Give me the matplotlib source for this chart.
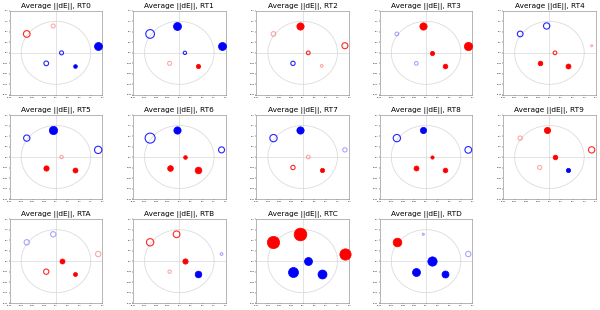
import matplotlib
matplotlib.use("Agg")
import matplotlib.pyplot as plt
import numpy as np

# sensor positions (fixed for all panels)
pos_x = [-0.63, -0.06, 0.91, 0.12, -0.21, 0.41]
pos_y = [0.45, 0.64, 0.17, 0.00, -0.25, -0.31]

names = ["RT0", "RT1", "RT2", "RT3", "RT4", "RT5", "RT6",
         "RT7", "RT8", "RT9", "RTA", "RTB", "RTC", "RTD"]

# signed average ||dE|| per sensor (positive = red, negative = blue)
vals_RT0 = [0.67, 0.40, -0.80, -0.40, -0.47, -0.37]
vals_RT1 = [-0.87, -0.80, -0.80, -0.33, 0.40, 0.43]
vals_RT2 = [0.47, 0.73, 0.60, 0.37, -0.43, 0.27]
vals_RT3 = [-0.37, 0.73, 0.83, 0.43, -0.37, 0.47]
vals_RT4 = [-0.57, -0.63, 0.20, 0.37, 0.47, 0.50]
vals_RT5 = [-0.63, -0.83, -0.73, 0.33, 0.53, 0.50]
vals_RT6 = [-1.00, -0.73, -0.60, 0.37, 0.57, 0.67]
vals_RT7 = [-0.73, -0.73, -0.43, 0.37, 0.43, 0.43]
vals_RT8 = [-0.73, -0.63, -0.67, 0.33, 0.50, 0.47]
vals_RT9 = [0.43, 0.63, 0.63, 0.47, 0.40, -0.43]
vals_RTA = [-0.53, -0.53, 0.53, 0.50, 0.53, 0.40]
vals_RTB = [0.73, 0.67, -0.27, 0.53, 0.33, -0.67]
vals_RTC = [1.23, 1.27, 1.13, -0.80, -1.00, -0.90]
vals_RTD = [0.87, -0.20, -0.53, -0.93, -0.80, -0.70]

# significance level: 2 = filled, 1 = open, 0 = open faint
sig_RT0 = [1, 0, 2, 1, 1, 2]
sig_RT1 = [1, 2, 2, 1, 0, 2]
sig_RT2 = [0, 2, 1, 1, 1, 0]
sig_RT3 = [0, 2, 2, 2, 0, 2]
sig_RT4 = [1, 1, 0, 1, 2, 2]
sig_RT5 = [1, 2, 1, 0, 2, 2]
sig_RT6 = [1, 2, 1, 2, 2, 2]
sig_RT7 = [1, 2, 0, 0, 1, 2]
sig_RT8 = [1, 2, 1, 2, 2, 2]
sig_RT9 = [0, 2, 1, 2, 0, 2]
sig_RTA = [0, 0, 0, 2, 1, 2]
sig_RTB = [1, 1, 0, 2, 0, 2]
sig_RTC = [2, 2, 2, 2, 2, 2]
sig_RTD = [2, 0, 0, 2, 2, 2]

all_vals = [vals_RT0, vals_RT1, vals_RT2, vals_RT3, vals_RT4, vals_RT5, vals_RT6,
            vals_RT7, vals_RT8, vals_RT9, vals_RTA, vals_RTB, vals_RTC, vals_RTD]
all_sig = [sig_RT0, sig_RT1, sig_RT2, sig_RT3, sig_RT4, sig_RT5, sig_RT6,
           sig_RT7, sig_RT8, sig_RT9, sig_RTA, sig_RTB, sig_RTC, sig_RTD]

ticks = [-1.0, -0.75, -0.5, -0.25, 0.0, 0.25, 0.5, 0.75, 1.0]

fig, axes = plt.subplots(3, 5, figsize=(6.0, 3.1), dpi=100)
fig.subplots_adjust(left=0.016, right=0.993, top=0.965, bottom=0.022,
                    wspace=0.33, hspace=0.24)

theta = np.linspace(0, 2 * np.pi, 300)
for i, ax in enumerate(axes.flat):
    if i >= len(names):
        ax.axis("off")
        continue
    ax.plot(0.75 * np.cos(theta), 0.75 * np.sin(theta), color="#dcdcdc", lw=0.6, zorder=1)
    ax.axhline(0, color="#d8d8d8", lw=0.5, zorder=1)
    ax.axvline(0, color="#d8d8d8", lw=0.5, zorder=1)
    for x, y, v, s in zip(pos_x, pos_y, all_vals[i], all_sig[i]):
        col = "#ff0000" if v > 0 else "#0000ff"
        size = (7.2 * abs(v)) ** 2
        if s == 2:
            ax.scatter([x], [y], s=size, c=col, edgecolors=col, linewidths=0.5,
                       zorder=3, clip_on=False)
        else:
            a = 0.85 if s == 1 else 0.35
            ax.scatter([x], [y], s=size, facecolors="none", edgecolors=col,
                       linewidths=0.8, alpha=a, zorder=3, clip_on=False)
    ax.set_xlim(-1, 1)
    ax.set_ylim(-1, 1)
    ax.set_xticks(ticks)
    ax.set_yticks(ticks)
    ax.tick_params(labelsize=1.2, length=0.8, width=0.3, pad=0.4)
    for sp in ax.spines.values():
        sp.set_color("#999999")
        sp.set_linewidth(0.5)
    ax.set_title("Average ||dE||, " + names[i], fontsize=5.3, pad=2)

fig.savefig("out.png", dpi=100)
